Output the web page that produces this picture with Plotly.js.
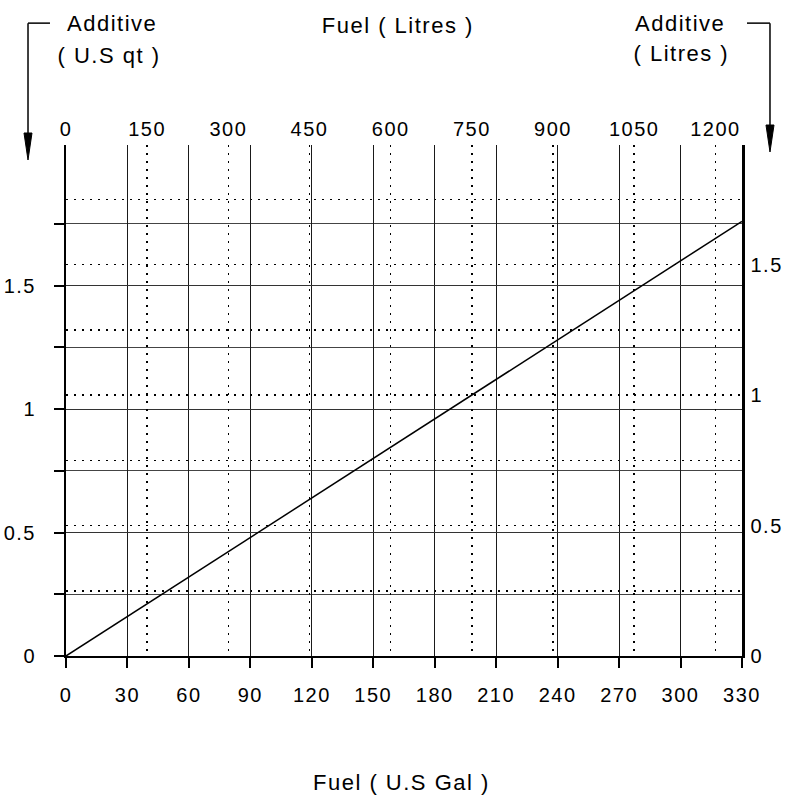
<!DOCTYPE html>
<html>
<head>
<meta charset="utf-8">
<script src="https://cdn.plot.ly/plotly-3.0.1.min.js"></script>
<style>
html,body{margin:0;padding:0;background:#fff;}
#chart{width:789px;height:800px;}
#chart .main-svg text{letter-spacing:1.5px;}
</style>
</head>
<body>
<div id="chart"></div>
<script>
// ---- data ----
const fuelGal = [0, 330];
const additiveQt = [0, 1.76];
const galTicks = [0, 30, 60, 90, 120, 150, 180, 210, 240, 270, 300, 330];
const litreTicks = [0, 150, 300, 450, 600, 750, 900, 1050, 1200];
const qtTicks = [0, 0.5, 1, 1.5];
const qtTickText = ['0', '0.5', '1', '1.5'];
const qtMinorTicks = [0.25, 0.75, 1.25, 1.75];
const addLitreTicks = [0, 0.5, 1, 1.5];
const addLitreTickText = ['0', '0.5', '1', '1.5'];
const addLitreMinorTicks = [0.25, 0.75, 1.25, 1.75];

const GAL_TO_L = 3.785411784;
const QT_TO_L = 0.946352946;
const galMax = 330;
const qtMax = 2.069;

const FONT = 'Liberation Sans, Arial, Helvetica, sans-serif';
const tickFont = {family: FONT, size: 20, color: '#000'};
const titleFont = {family: FONT, size: 22, color: '#000'};
const dotDash = '1.5px,6.5px';

const traces = [
  {x: fuelGal, y: additiveQt, xaxis: 'x', yaxis: 'y', mode: 'lines',
   line: {color: '#000', width: 1.5}, hoverinfo: 'skip', showlegend: false},
  {x: [0, galMax * GAL_TO_L], y: [0, 0], xaxis: 'x2', yaxis: 'y2', mode: 'lines',
   line: {color: 'rgba(0,0,0,0)', width: 0}, hoverinfo: 'skip', showlegend: false}
];

const bracketLine = {color: '#000', width: 1.5};
const layout = {
  width: 789, height: 800,
  margin: {l: 66, r: 47, t: 145, b: 143.5},
  paper_bgcolor: '#fff', plot_bgcolor: '#fff',
  showlegend: false,
  font: tickFont,
  xaxis: {
    range: [0, galMax], tickmode: 'array', tickvals: galTicks,
    ticks: 'outside', ticklen: 10, tickwidth: 2, tickcolor: '#000',
    showline: true, linecolor: '#000', linewidth: 2,
    showgrid: true, gridcolor: '#1a1a1a', gridwidth: 1,
    zeroline: false, tickfont: tickFont, ticklabelstandoff: 10
  },
  xaxis2: {
    overlaying: 'x', side: 'top', anchor: 'y',
    range: [0, galMax * GAL_TO_L], tickmode: 'array', tickvals: litreTicks,
    ticks: '', showline: false,
    showgrid: true, gridcolor: '#000', gridwidth: 1.5, griddash: dotDash,
    zeroline: false, tickfont: tickFont, ticklabelstandoff: 4
  },
  yaxis: {
    range: [0, qtMax], tickmode: 'array', tickvals: qtTicks, ticktext: qtTickText,
    ticks: 'outside', ticklen: 10, tickwidth: 2, tickcolor: '#000',
    showline: true, linecolor: '#000', linewidth: 2,
    showgrid: true, gridcolor: '#333', gridwidth: 1,
    minor: {tickmode: 'array', tickvals: qtMinorTicks, ticks: 'outside', ticklen: 10, tickwidth: 2,
            tickcolor: '#000', showgrid: true, gridcolor: '#444', gridwidth: 1},
    zeroline: false, tickfont: tickFont, ticklabelstandoff: 14
  },
  yaxis2: {
    overlaying: 'y', side: 'right', anchor: 'x',
    range: [0, qtMax * QT_TO_L], tickmode: 'array', tickvals: addLitreTicks, ticktext: addLitreTickText,
    ticks: '', showline: true, linecolor: '#000', linewidth: 2.5,
    showgrid: true, gridcolor: '#000', gridwidth: 1.5, griddash: dotDash,
    minor: {tickmode: 'array', tickvals: addLitreMinorTicks, showgrid: true, gridcolor: '#000', gridwidth: 1.5, griddash: dotDash},
    zeroline: false, tickfont: tickFont, ticklabelstandoff: 2
  },
  shapes: [
    // left bracket arrow
    {type: 'line', xref: 'paper', yref: 'paper', x0: -0.0562, x1: -0.0237, y0: 1.2385, y1: 1.2385, line: bracketLine},
    {type: 'line', xref: 'paper', yref: 'paper', x0: -0.0562, x1: -0.0562, y0: 1.2385, y1: 1.0196, line: bracketLine},
    {type: 'path', xref: 'paper', yref: 'paper',
     path: 'M -0.06213,1.02346 L -0.05030,1.02346 L -0.05621,0.97067 Z',
     fillcolor: '#000', line: {color: '#000', width: 1}},
    // right bracket arrow
    {type: 'line', xref: 'paper', yref: 'paper', x0: 1.0074, x1: 1.0414, y0: 1.2385, y1: 1.2385, line: bracketLine},
    {type: 'line', xref: 'paper', yref: 'paper', x0: 1.0414, x1: 1.0414, y0: 1.2385, y1: 1.0352, line: bracketLine},
    {type: 'path', xref: 'paper', yref: 'paper',
     path: 'M 1.03550,1.03910 L 1.04734,1.03910 L 1.04142,0.98631 Z',
     fillcolor: '#000', line: {color: '#000', width: 1}}
  ],
  annotations: [
    {text: 'Fuel ( Litres )', xref: 'paper', yref: 'paper', x: 0.491, y: 1.2345,
     xanchor: 'center', yanchor: 'middle', showarrow: false, font: titleFont},
    {text: 'Fuel ( U.S Gal )', xref: 'paper', yref: 'paper', x: 0.497, y: -0.247,
     xanchor: 'center', yanchor: 'middle', showarrow: false, font: titleFont},
    {text: 'Additive', xref: 'paper', yref: 'paper', x: 0.068, y: 1.238,
     xanchor: 'center', yanchor: 'middle', showarrow: false, font: titleFont},
    {text: '( U.S qt )', xref: 'paper', yref: 'paper', x: 0.064, y: 1.176,
     xanchor: 'center', yanchor: 'middle', showarrow: false, font: titleFont},
    {text: 'Additive', xref: 'paper', yref: 'paper', x: 0.909, y: 1.238,
     xanchor: 'center', yanchor: 'middle', showarrow: false, font: titleFont},
    {text: '( Litres )', xref: 'paper', yref: 'paper', x: 0.911, y: 1.180,
     xanchor: 'center', yanchor: 'middle', showarrow: false, font: titleFont}
  ]
};

Plotly.newPlot('chart', traces, layout, {staticPlot: true, displayModeBar: false});
</script>
</body>
</html>
